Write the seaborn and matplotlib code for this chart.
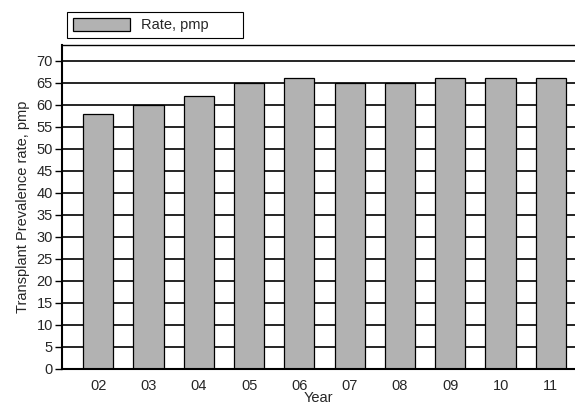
import matplotlib
matplotlib.use('agg')
from matplotlib import pyplot as plt
import seaborn as sns
import pandas as pd

years = ["02", "03", "04", "05", "06", "07", "08", "09", "10", "11"]
rates = [58, 60, 62, 65, 66, 65, 65, 66, 66, 66]

df = pd.DataFrame({"Year": years, "Rate": rates})

sns.set_style("white")
plt.rcParams['font.family'] = ['Liberation Sans', 'DejaVu Sans']
fs = 10.5

fig = plt.figure(figsize=(5.75, 4.07), dpi=100)
ax = fig.add_axes([62 / 575, 38 / 407, 1 - 62 / 575, 324 / 407])

ax.set_axisbelow(True)
ax.yaxis.grid(True, color='black', linewidth=1.2)
sns.barplot(data=df, x="Year", y="Rate", color='#b2b2b2', saturation=1,
            edgecolor='black', linewidth=0.9, width=0.6, ax=ax, label='Rate, pmp')

ax.set_ylim(0, 73.6)
ax.set_xlim(-0.72, 9.48)
ax.set_yticks(range(0, 71, 5))
ax.tick_params(axis='y', left=True, length=5, width=1, labelsize=fs, color='black', pad=1.5)
ax.tick_params(axis='x', bottom=False, labelsize=fs, pad=4)
ax.set_ylabel('Transplant Prevalence rate, pmp', fontsize=fs, labelpad=5)
ax.set_xlabel('Year', fontsize=fs, labelpad=-1.5)

for s in ['left', 'bottom']:
    ax.spines[s].set_linewidth(1.5)
    ax.spines[s].set_color('black')
ax.spines['top'].set_linewidth(1.0)
ax.spines['top'].set_color('black')
ax.spines['right'].set_visible(False)

if ax.legend_:
    ax.legend_.remove()
handles, labels = ax.get_legend_handles_labels()
leg = fig.legend(handles[:1], labels[:1], loc='upper left', mode='expand',
                 bbox_to_anchor=(67 / 575, 1 - 40 / 407, 176 / 575, 28 / 407),
                 borderaxespad=0, fancybox=False, edgecolor='black', framealpha=1,
                 fontsize=fs, handlelength=3.9, handleheight=1.0, borderpad=0.4,
                 handletextpad=0.8)
leg.get_frame().set_linewidth(0.8)

plt.savefig('out.png', dpi=100)
